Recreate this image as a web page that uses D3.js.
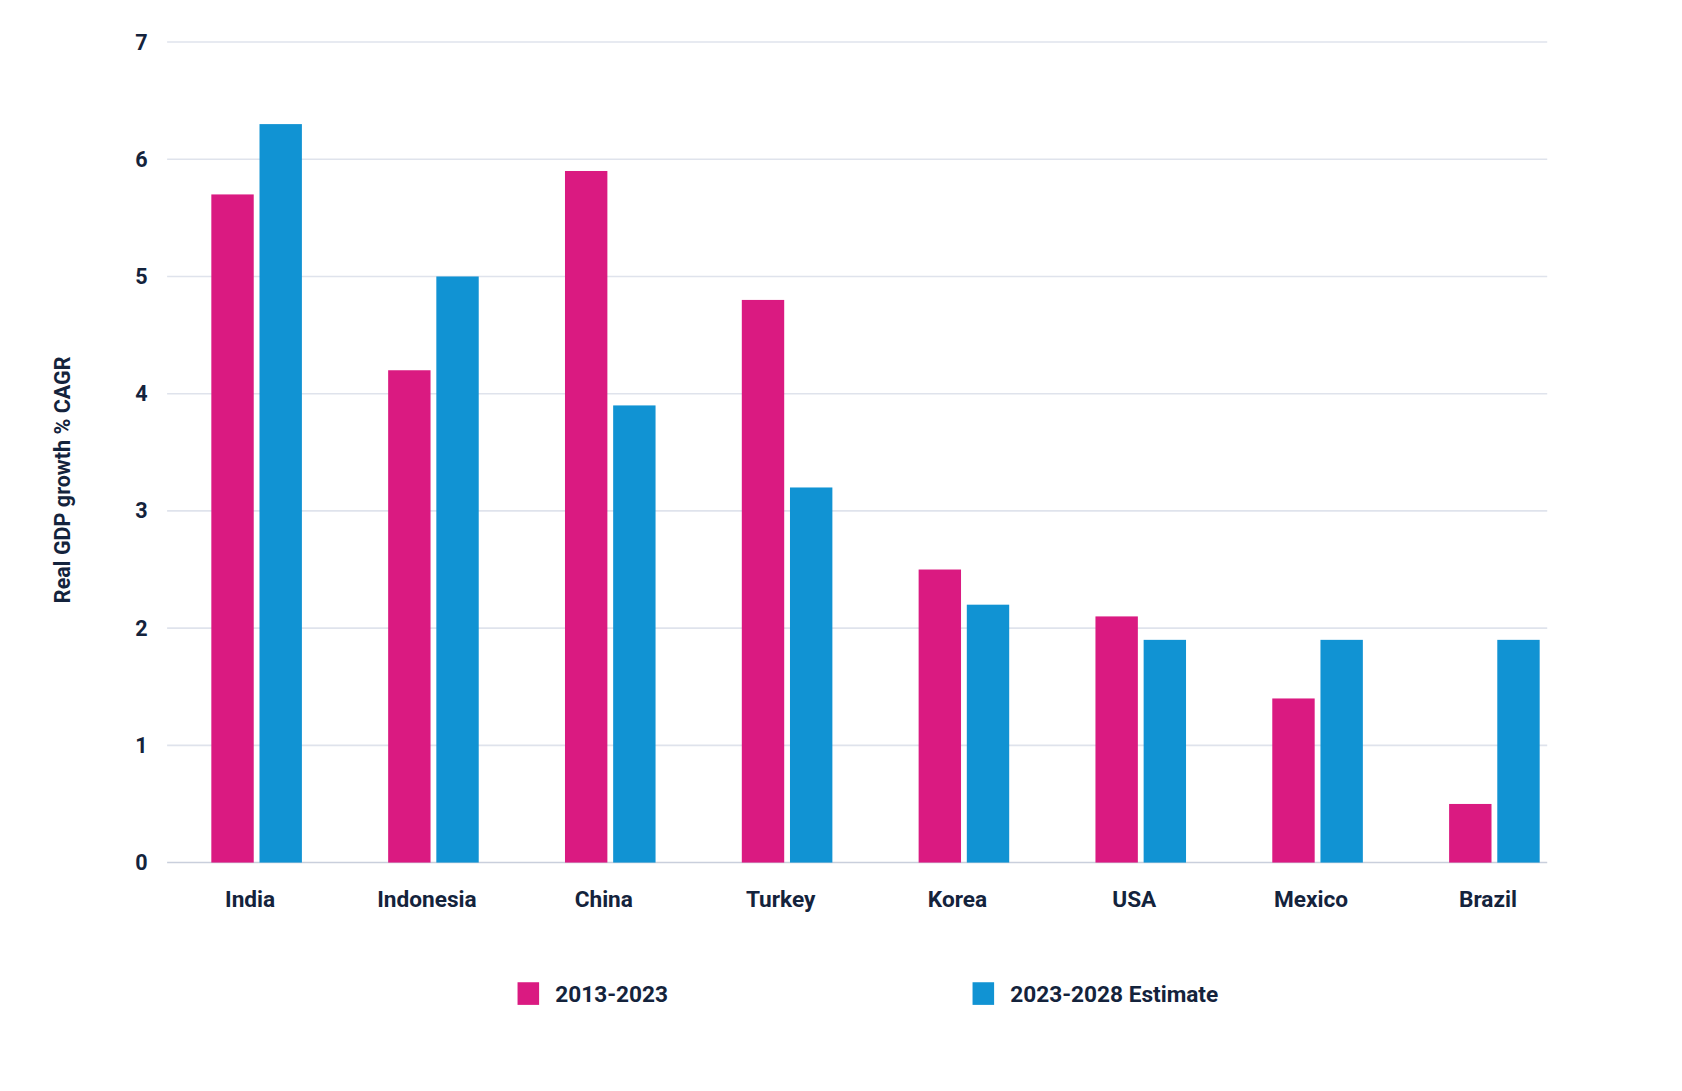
<!DOCTYPE html>
<html><head><meta charset="utf-8">
<script src="https://cdn.jsdelivr.net/npm/d3@7"></script>
<style>body{margin:0;background:#fff}text{font-family:Roboto,sans-serif;font-weight:700;fill:#14233c}</style>
</head><body>
<script>
// data
const countries = ["India","Indonesia","China","Turkey","Korea","USA","Mexico","Brazil"];
const past = [5.7,4.2,5.9,4.8,2.5,2.1,1.4,0.5];
const future = [6.3,5.0,3.9,3.2,2.2,1.9,1.9,1.9];
const seriesNames = ["2013-2023","2023-2028 Estimate"];
const colors = ["#da1a81","#1193d3"];

const k = 1682/1560;
const svg = d3.select("body").append("svg").attr("width",1682).attr("height",1091)
  .append("g").attr("transform",`scale(${k})`);

const y = d3.scaleLinear().domain([0,7]).range([800,39]);
const x = d3.scaleBand().domain(countries).range([156,1468]);
const inner = d3.scaleBand().domain([0,1]).range([0,84]).paddingInner(0.12);

// grid
svg.append("g").selectAll("line").data(d3.range(0,8)).join("line")
  .attr("x1",155).attr("x2",1435).attr("y1",d=>y(d)).attr("y2",d=>y(d))
  .attr("stroke",d=>d==0?"#c9cfdc":"#dfe3ec").attr("stroke-width",1.5);
svg.append("g").selectAll("text").data(d3.range(0,8)).join("text")
  .attr("x",137).attr("y",d=>y(d)).attr("dy","0.35em").attr("text-anchor","end")
  .attr("font-size",20).text(d=>d);

// bars
[past,future].forEach((vals,s)=>{
  svg.append("g").selectAll("rect").data(countries).join("rect")
    .attr("x",(c)=>x(c)+x.bandwidth()/2-42+inner(s))
    .attr("width",inner.bandwidth())
    .attr("y",(c,i)=>y(vals[i])).attr("height",(c,i)=>y(0)-y(vals[i]))
    .attr("fill",colors[s]);
});

// x labels
svg.append("g").selectAll("text").data(countries).join("text")
  .attr("x",c=>x(c)+x.bandwidth()/2-6).attr("y",841).attr("text-anchor","middle")
  .attr("font-size",21).text(c=>c);

// y title
svg.append("text").attr("transform","translate(65,445) rotate(-90)")
  .attr("text-anchor","middle").attr("font-size",20).text("Real GDP growth % CAGR");

// legend
const legX = [480,902];
seriesNames.forEach((n,i)=>{
  svg.append("rect").attr("x",legX[i]).attr("y",911).attr("width",20).attr("height",21).attr("fill",colors[i]);
  svg.append("text").attr("x",legX[i]+35).attr("y",929).attr("font-size",21).text(n);
});
</script>
</body></html>
